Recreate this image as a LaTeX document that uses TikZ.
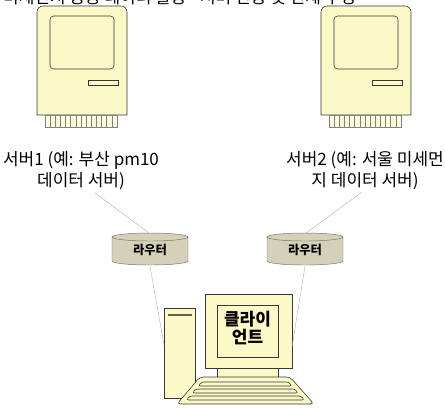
\documentclass[tikz,border=0pt]{standalone}
\usepackage{fontspec}
\setmainfont{Noto Sans CJK KR}
\usepackage{tikz}
\definecolor{macyellow}{RGB}{251,249,199}
\definecolor{routergray}{RGB}{213,209,184}
\definecolor{edgegray}{RGB}{55,55,55}
\tikzset{
	box/.style={fill=macyellow, draw=edgegray, line width=0.5pt},
	wire/.style={draw=black!35, line width=0.3pt},
	tag/.style={align=center, inner sep=0pt, font=\fontsize{14.5}{18}\selectfont},
	routertag/.style={inner sep=0pt, minimum width=2.31cm, minimum height=0.96cm, font=\bfseries\fontsize{10.5}{12}\selectfont},
	clienttag/.style={align=center, inner sep=0pt, font=\bfseries\fontsize{14.5}{15.5}\selectfont},
	keyrow/.style={fill=macyellow, draw=edgegray, line width=0.5pt, rounded corners=2},
}
% classic box computer, #1/#2 = top left corner
\def\macserver(#1,#2){
	\begin{scope}[shift={(#1,#2)}]
		\draw[box] (0,109) -- (0,6) arc[start angle=180, end angle=270, radius=6] -- (84,0) arc[start angle=270, end angle=360, radius=6] -- (90,109) -- cycle;
		\draw[box, rounded corners=3] (13,10) rectangle (77,63);
		\draw[box] (51,74) rectangle (81,79);
		\draw[fill=macyellow!60, draw=gray, line width=0.4pt] (8,109) rectangle (80,121);
		\foreach \i in {1,...,13}
			\draw[gray, line width=0.4pt] ({8+\i*72/14},109) -- ({8+\i*72/14},121);
	\end{scope}
}
% router drum, #1/#2 = centre, #3 = node name
\def\router(#1,#2)#3{
	\draw[fill=routergray, draw=edgegray!70, line width=0.4pt] ({#1-38},{#2-12}) -- ({#1-38},{#2+12}) arc[start angle=180, end angle=0, x radius=38, y radius=4] -- ({#1+38},{#2-12}) -- cycle;
	\draw[fill=routergray, draw=edgegray!70, line width=0.4pt] (#1,{#2-12}) ellipse [x radius=38, y radius=4];
	\node[routertag] (#3) at (#1,{#2+1}) {라우터};
}

\begin{document}
\begin{tikzpicture}[x=0.03cm, y=-0.03cm]
	%%%%% START %%%%%
	\useasboundingbox (0,0) rectangle (445,407);
	
	\node[anchor=base west, inner sep=0pt, font=\fontsize{14.5}{16}\selectfont] (title) at (3,3) {미세먼지 공공 데이터 활용 - 서버 연동 및 전체 구성};
	
	% servers
	\macserver(37,6)
	\macserver(321,6)
	\node[tag] (lbl1) at (81,170.5) {서버1 (예: 부산 pm10\\데이터 서버)};
	\node[tag] (lbl2) at (365,170.5) {서버2 (예: 서울 미세먼\\지 데이터 서버)};
	\coordinate (s1 port) at (95,193);
	\coordinate (s2 port) at (362,192);
	
	% routers
	\router(150,249){r1}
	\router(305,249){r2}
	
	% client tower
	\draw[box] (164,308) rectangle (195,398);
	\draw[line width=1.2pt, color=edgegray!80] (168,315) -- (192,315);
	\coordinate (tower port) at (164,345);
	
	% client monitor
	\draw[box] (205,294) rectangle (292,368);
	\draw[box] (217,305) rectangle (278,357);
	\draw[box] (217,368) rectangle (278,378);
	\coordinate (screen port) at (292,347);
	\node[clienttag] (client) at (247.5,328) {클라이\\언트};
	
	% keyboard
	\draw[box, rounded corners=3] (200,377) -- (290,377) -- (314,404) -- (177,404) -- cycle;
	\foreach \y in {382,389,396}
		\draw[keyrow] ({205-0.846*(\y-378)},\y) -- ({285+0.885*(\y-378)},\y) -- ({285+0.885*(\y+4-378)},{\y+4}) -- ({205-0.846*(\y+4-378)},{\y+4}) -- cycle;
	
	% links
	\draw[wire] (s1 port) -- (r1.north);
	\draw[wire] (s2 port) -- (r2.north);
	\draw[wire] (r1.south) -- (tower port);
	\draw[wire] (r2.south) -- (screen port);
	%%%%% END %%%%%
\end{tikzpicture}
\end{document}
